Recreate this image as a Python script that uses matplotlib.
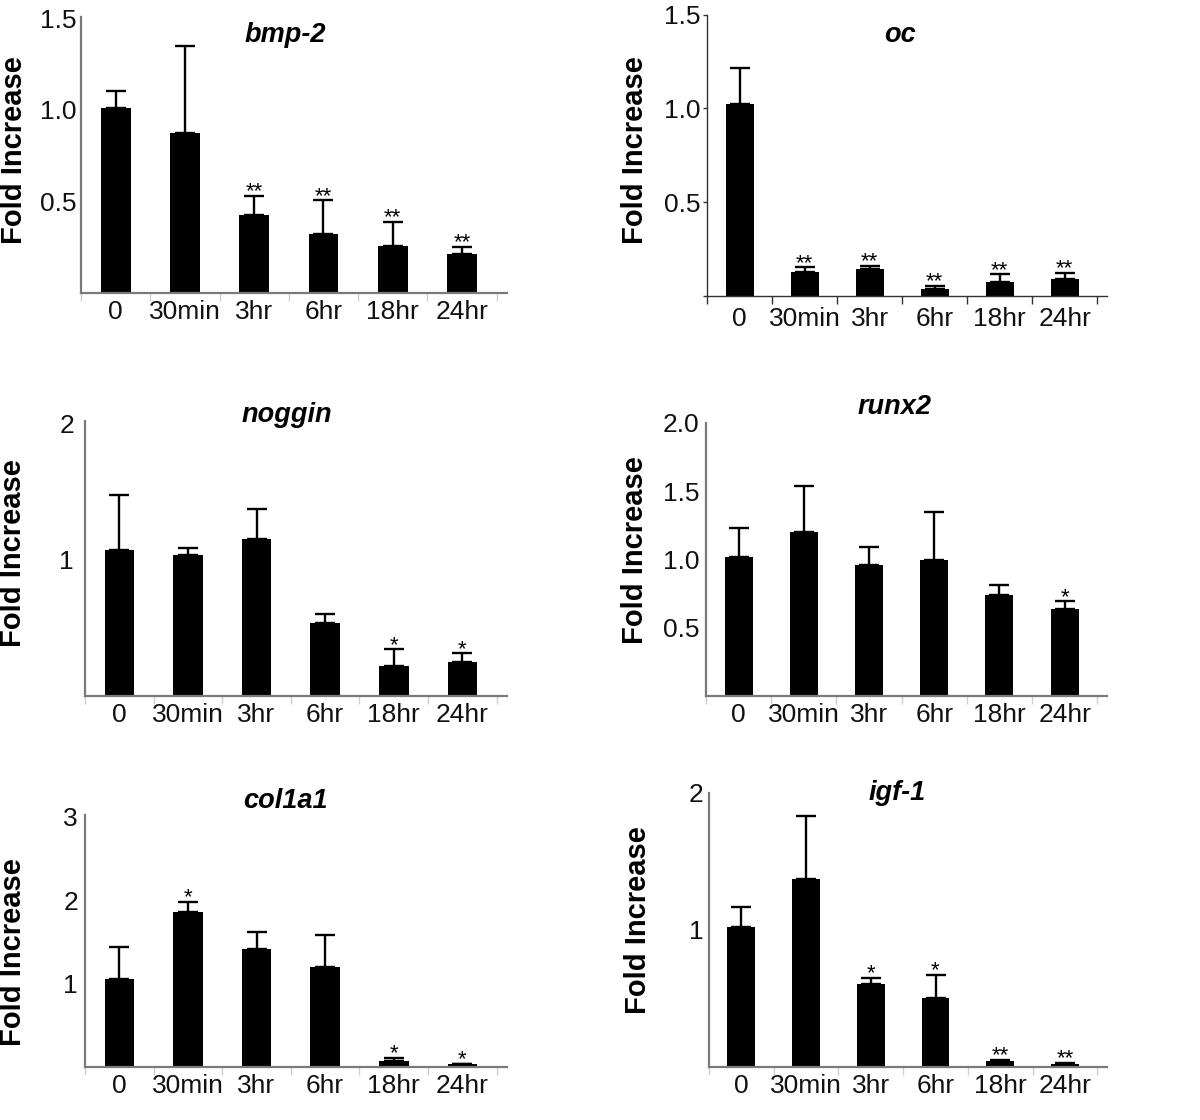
import numpy as np
import matplotlib
matplotlib.use("Agg")
import matplotlib.pyplot as plt

plt.rcParams['font.family'] = ['Liberation Sans', 'DejaVu Sans']

# time points shared by all panels
times = ['0', '30min', '3hr', '6hr', '18hr', '24hr']

# bmp-2
bmp2_mean = [1.01, 0.876, 0.427, 0.321, 0.257, 0.213]
bmp2_err = [0.096, 0.471, 0.102, 0.184, 0.132, 0.039]
bmp2_star = ['', '', '**', '**', '**', '**']

# oc
oc_mean = [1.023, 0.125, 0.144, 0.037, 0.073, 0.091]
oc_err = [0.192, 0.026, 0.014, 0.016, 0.041, 0.032]
oc_star = ['', '**', '**', '**', '**', '**']

# noggin
noggin_mean = [1.068, 1.032, 1.154, 0.531, 0.220, 0.244]
noggin_err = [0.404, 0.056, 0.220, 0.070, 0.120, 0.067]
noggin_star = ['', '', '', '', '*', '*']

# runx2
runx2_mean = [1.020, 1.198, 0.956, 0.993, 0.737, 0.634]
runx2_err = [0.212, 0.339, 0.137, 0.353, 0.073, 0.059]
runx2_star = ['', '', '', '', '', '*']

# col1a1
col1a1_mean = [1.052, 1.864, 1.412, 1.196, 0.080, 0.040]
col1a1_err = [0.388, 0.116, 0.208, 0.392, 0.032, 0.005]
col1a1_star = ['', '*', '', '', '*', '*']

# igf-1
igf1_mean = [1.017, 1.373, 0.602, 0.505, 0.041, 0.020]
igf1_err = [0.146, 0.456, 0.044, 0.163, 0.008, 0.009]
igf1_star = ['', '', '*', '*', '**', '**']

W, H = 1200, 1120


def px_rect(left, right, y0, ytop):
    return [left / W, 1 - y0 / H, (right - left) / W, (y0 - ytop) / H]


def draw_panel(fig, rect, title, mean, err, stars, yticks, ylabels, ytop,
               title_xy, ylab_xy, ypad, dark=False):
    ax = fig.add_axes(rect)
    x = np.arange(len(times))
    ax.bar(x, mean, width=0.43, color='black', zorder=2)
    ax.errorbar(x, mean, yerr=[np.zeros(len(mean)), err], fmt='none',
                ecolor='black', elinewidth=1.7, capsize=7, capthick=1.7, zorder=3)
    for i, s in enumerate(stars):
        if s:
            ax.annotate(s, (x[i], mean[i] + err[i]), xytext=(0, -1),
                        textcoords='offset points', ha='center', va='baseline',
                        fontsize=16, color='black')

    ax.set_xlim(-0.5, 5.65)
    ax.set_ylim(0, ytop)
    for side in ['top', 'right']:
        ax.spines[side].set_visible(False)

    if dark:
        spc, lw, tcol = '#333333', 1.0, '#333333'
    else:
        spc, lw, tcol = '#7a7a7a', 1.6, '#cfcfcf'
    ax.spines['left'].set_color(spc)
    ax.spines['bottom'].set_color(spc)
    ax.spines['left'].set_linewidth(lw)
    ax.spines['bottom'].set_linewidth(lw)

    ax.set_xticks(x)
    ax.set_xticklabels(times, fontsize=19, color='#111111')
    ax.set_xticks(np.arange(-0.5, 6, 1), minor=True)
    ax.tick_params(axis='x', which='major', length=0, pad=8 if dark else 5)
    ax.tick_params(axis='x', which='minor', length=6, width=1, color=tcol,
                   direction='out')

    ax.set_yticks(yticks)
    ax.set_yticklabels(ylabels, fontsize=19, color='#111111')
    if dark:
        ax.tick_params(axis='y', length=3, width=1, color=spc, pad=ypad)
    else:
        ax.tick_params(axis='y', length=0, pad=ypad)

    fig.text(title_xy[0] / W, 1 - title_xy[1] / H, title, fontsize=19.5,
             fontweight='bold', fontstyle='italic', ha='center', va='center')
    fig.text(ylab_xy[0] / W, 1 - ylab_xy[1] / H, 'Fold Increase', fontsize=21,
             fontweight='bold', rotation=90, ha='center', va='center')
    return ax


def main():
    fig = plt.figure(figsize=(W / 100, H / 100), dpi=100)

    draw_panel(fig, px_rect(81, 507, 292.7, 16.7), 'bmp-2', bmp2_mean, bmp2_err,
               bmp2_star, [0.5, 1.0, 1.5], ['0.5', '1.0', '1.5'], 1.51,
               (285, 35), (14, 150), 3.5)
    draw_panel(fig, px_rect(707, 1107, 295.7, 14.7), 'oc', oc_mean, oc_err,
               oc_star, [0, 0.5, 1.0, 1.5], ['', '0.5', '1.0', '1.5'], 1.5,
               (900, 35), (635, 150), 2, dark=True)
    draw_panel(fig, px_rect(85, 507, 695.7, 420.7), 'noggin', noggin_mean,
               noggin_err, noggin_star, [1, 2], ['1', '2'], 2.02,
               (287, 415), (13, 553), 8)
    draw_panel(fig, px_rect(706, 1107, 696, 422.7), 'runx2', runx2_mean,
               runx2_err, runx2_star, [0.5, 1.0, 1.5, 2.0],
               ['0.5', '1.0', '1.5', '2.0'], 2.0,
               (895, 407), (635, 550), 5)
    draw_panel(fig, px_rect(85, 507, 1067.3, 815), 'col1a1', col1a1_mean,
               col1a1_err, col1a1_star, [1, 2, 3], ['1', '2', '3'], 3.02,
               (285, 801), (13, 952), 5)
    draw_panel(fig, px_rect(709, 1107, 1066.7, 792.7), 'igf-1', igf1_mean,
               igf1_err, igf1_star, [1, 2], ['1', '2'], 2.0,
               (897, 793), (638, 920), 4)

    fig.savefig('out.png', dpi=100, facecolor='white')


if __name__ == "__main__":
    main()
